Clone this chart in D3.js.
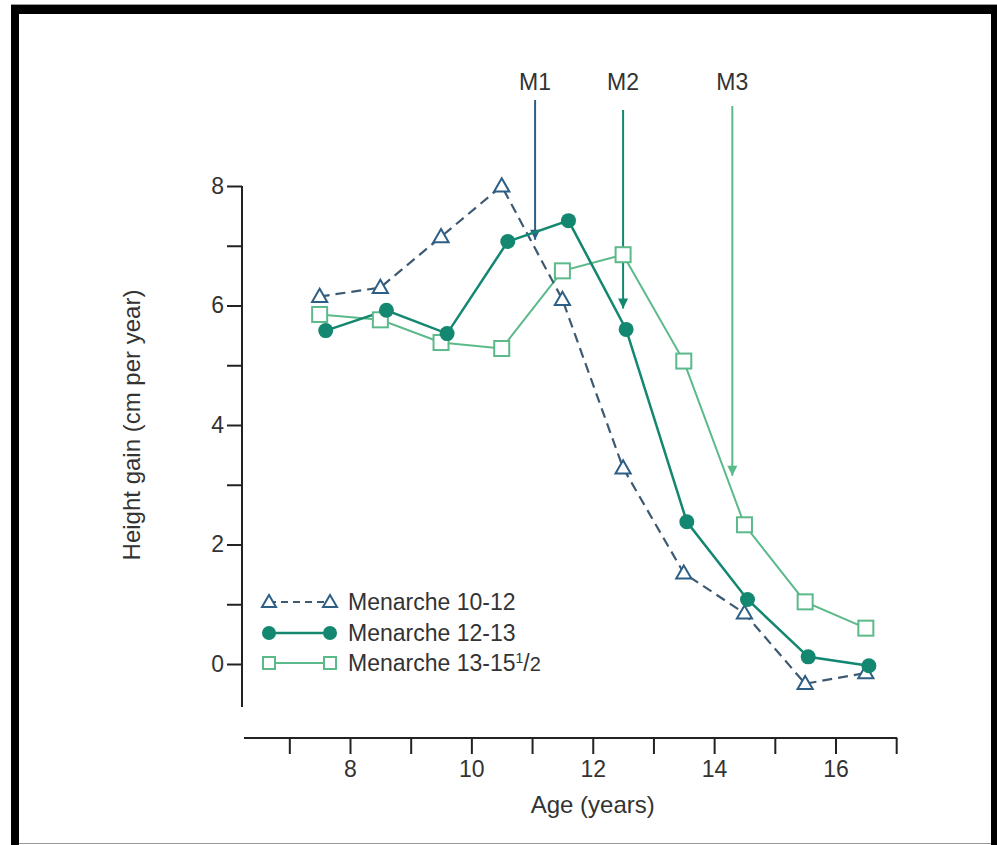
<!DOCTYPE html>
<html>
<head>
<meta charset="utf-8">
<script src="https://cdn.jsdelivr.net/npm/d3@7"></script>
<style>
  body { margin: 0; background: #fff; }
  svg text { font-family: "Liberation Sans", Arial, sans-serif; fill: #333; }
</style>
</head>
<body>
<div id="chart"></div>
<script>
// height gain per year around menarche, three groups
const agesA = [7.5, 8.5, 9.5, 10.5, 11.5, 12.5, 13.5, 14.5, 15.5, 16.5];
const gainA = [6.15, 6.3, 7.15, 8.0, 6.1, 3.28, 1.52, 0.85, -0.33, -0.15];

const agesB = [7.6, 8.6, 9.6, 10.6, 11.6, 12.55, 13.55, 14.55, 15.55, 16.55];
const gainB = [5.58, 5.92, 5.53, 7.07, 7.42, 5.6, 2.38, 1.08, 0.12, -0.03];

const agesC = [7.5, 8.5, 9.5, 10.5, 11.5, 12.5, 13.5, 14.5, 15.5, 16.5];
const gainC = [5.85, 5.76, 5.38, 5.28, 6.58, 6.85, 5.07, 2.33, 1.04, 0.6];

const seriesNames = ["Menarche 10-12", "Menarche 12-13", "Menarche 13-15"];

const markerNames = ["M1", "M2", "M3"];
const markerAges = [11.05, 12.5, 14.3];
const markerTips = [7.1, 5.95, 3.15];

const yMajor = [0, 2, 4, 6, 8];
const yMinor = [1, 3, 5, 7];
const xTicks = [7, 8, 9, 10, 11, 12, 13, 14, 15, 16, 17];
const xLabels = [8, 10, 12, 14, 16];

const colA = "#2d5f86", colB = "#13876f", colC = "#5bb98a";

const W = 997, H = 845;
const svg = d3.select("#chart").append("svg")
    .attr("width", W).attr("height", H);

// page frame
svg.append("line").attr("x1", 11).attr("x2", 997).attr("y1", 4.5).attr("y2", 4.5)
    .attr("stroke", "#999").attr("stroke-width", 1);
svg.append("rect").attr("x", 11).attr("y", 5).attr("width", 986).attr("height", 9).attr("fill", "#000");
svg.append("rect").attr("x", 11).attr("y", 5).attr("width", 8).attr("height", 840).attr("fill", "#000");
svg.append("rect").attr("x", 991).attr("y", 5).attr("width", 6).attr("height", 840).attr("fill", "#000");
svg.append("line").attr("x1", 19).attr("x2", 991).attr("y1", 843.5).attr("y2", 843.5)
    .attr("stroke", "#999").attr("stroke-width", 1);

const x = d3.scaleLinear().domain([8, 16]).range([350, 835.5]);
const y = d3.scaleLinear().domain([0, 8]).range([664, 186]);

// y axis
const yAxisG = svg.append("g").attr("transform", "translate(242,0)");
yAxisG.append("line").attr("x1", 0).attr("x2", 0)
    .attr("y1", y(8)).attr("y2", y(-0.72))
    .attr("stroke", "#222").attr("stroke-width", 2);
yAxisG.call(d3.axisLeft(y).tickValues(yMajor.concat(yMinor)).tickSize(15)
        .tickFormat(d => yMajor.includes(d) ? d : ""))
    .call(g => g.select(".domain").remove())
    .call(g => g.selectAll(".tick line").attr("stroke", "#222").attr("stroke-width", 2))
    .call(g => g.selectAll(".tick text").attr("x", -18).attr("font-size", 23).attr("fill", "#333")
        .style("font-family", "Liberation Sans, Arial, sans-serif"));

// x axis
const xAxisG = svg.append("g").attr("transform", "translate(0,738)");
xAxisG.append("line").attr("x1", 244).attr("x2", x(17) + 1)
    .attr("y1", 0).attr("y2", 0).attr("stroke", "#222").attr("stroke-width", 2);
xAxisG.call(d3.axisBottom(x).tickValues(xTicks).tickSize(16)
        .tickFormat(d => xLabels.includes(d) ? d : ""))
    .call(g => g.select(".domain").remove())
    .call(g => g.selectAll(".tick line").attr("stroke", "#222").attr("stroke-width", 2))
    .call(g => g.selectAll(".tick text").attr("y", 23).attr("font-size", 23).attr("fill", "#333")
        .style("font-family", "Liberation Sans, Arial, sans-serif"));

svg.append("text").attr("x", x(12)).attr("y", 813).attr("text-anchor", "middle")
    .attr("font-size", 24).text("Age (years)");
svg.append("text").attr("transform", "translate(140," + y(4) + ") rotate(-90)")
    .attr("text-anchor", "middle").attr("font-size", 24).text("Height gain (cm per year)");

// arrows
const defs = svg.append("defs");
[colA, colB, colC].forEach((c, i) => {
    defs.append("marker").attr("id", "ah" + i)
        .attr("viewBox", "0 0 10 10").attr("refX", 10).attr("refY", 5)
        .attr("markerWidth", 14).attr("markerHeight", 10).attr("markerUnits", "userSpaceOnUse")
        .attr("orient", "auto")
        .append("path").attr("d", "M0,0 L10,5 L0,10 Z").attr("fill", c);
});
const arrowTops = [100, 110, 106];
const arrowCols = [colA, colB, colC];
markerNames.forEach((m, i) => {
    const ax = x(markerAges[i]);
    svg.append("line").attr("x1", ax).attr("x2", ax)
        .attr("y1", arrowTops[i]).attr("y2", y(markerTips[i]))
        .attr("stroke", arrowCols[i]).attr("stroke-width", 2)
        .attr("marker-end", "url(#ah" + i + ")");
    svg.append("text").attr("x", ax).attr("y", 90).attr("text-anchor", "middle")
        .attr("font-size", 23).text(m);
});

// series
const line = d3.line().x(d => x(d[0])).y(d => y(d[1]));
const dataA = agesA.map((a, i) => [a, gainA[i]]);
const dataB = agesB.map((a, i) => [a, gainB[i]]);
const dataC = agesC.map((a, i) => [a, gainC[i]]);

svg.append("path").datum(dataC).attr("d", line).attr("fill", "none")
    .attr("stroke", colC).attr("stroke-width", 2);
svg.append("path").datum(dataA).attr("d", line).attr("fill", "none")
    .attr("stroke", "#3d5a72").attr("stroke-width", 2.2).attr("stroke-dasharray", "10,6");
svg.append("path").datum(dataB).attr("d", line).attr("fill", "none")
    .attr("stroke", colB).attr("stroke-width", 2.5);

function drawTri(g, px, py, sz) {
    g.append("path").attr("d", d3.symbol().type(d3.symbolTriangle).size(sz)())
        .attr("transform", "translate(" + px + "," + (py + 1) + ")")
        .attr("fill", "#fff").attr("stroke", colA).attr("stroke-width", 2);
}
function drawCircle(g, px, py, r) {
    g.append("circle").attr("cx", px).attr("cy", py).attr("r", r).attr("fill", colB);
}
function drawSquare(g, px, py, s) {
    g.append("rect").attr("x", px - s / 2).attr("y", py - s / 2).attr("width", s).attr("height", s)
        .attr("fill", "#fff").attr("stroke", colC).attr("stroke-width", 2);
}

const pts = svg.append("g");
dataC.forEach(d => drawSquare(pts, x(d[0]), y(d[1]), 15));
dataA.forEach(d => drawTri(pts, x(d[0]), y(d[1]), 100));
dataB.forEach(d => drawCircle(pts, x(d[0]), y(d[1]), 7.5));

// legend
const leg = svg.append("g");
const legY = [602, 633, 663];
const lx0 = 269, lx1 = 330;
// row A
leg.append("line").attr("x1", lx0).attr("x2", lx1).attr("y1", legY[0]).attr("y2", legY[0])
    .attr("stroke", "#3d5a72").attr("stroke-width", 2).attr("stroke-dasharray", "7,5");
drawTri(leg, lx0, legY[0], 85); drawTri(leg, lx1, legY[0], 85);
// row B
leg.append("line").attr("x1", lx0).attr("x2", lx1).attr("y1", legY[1]).attr("y2", legY[1])
    .attr("stroke", colB).attr("stroke-width", 2.5);
drawCircle(leg, lx0, legY[1], 7); drawCircle(leg, lx1, legY[1], 7);
// row C
leg.append("line").attr("x1", lx0).attr("x2", lx1).attr("y1", legY[2]).attr("y2", legY[2])
    .attr("stroke", colC).attr("stroke-width", 2);
drawSquare(leg, lx0, legY[2], 12); drawSquare(leg, lx1, legY[2], 12);

seriesNames.forEach((s, i) => {
    const t = leg.append("text").attr("x", 348).attr("y", legY[i] + 8).attr("font-size", 23).text(s);
    if (i === 2) {
        t.append("tspan").attr("dy", -8).attr("font-size", 14).text("1");
        t.append("tspan").attr("dy", 8).attr("font-size", 23).text("/");
        t.append("tspan").attr("font-size", 20).text("2");
    }
});
</script>
</body>
</html>
